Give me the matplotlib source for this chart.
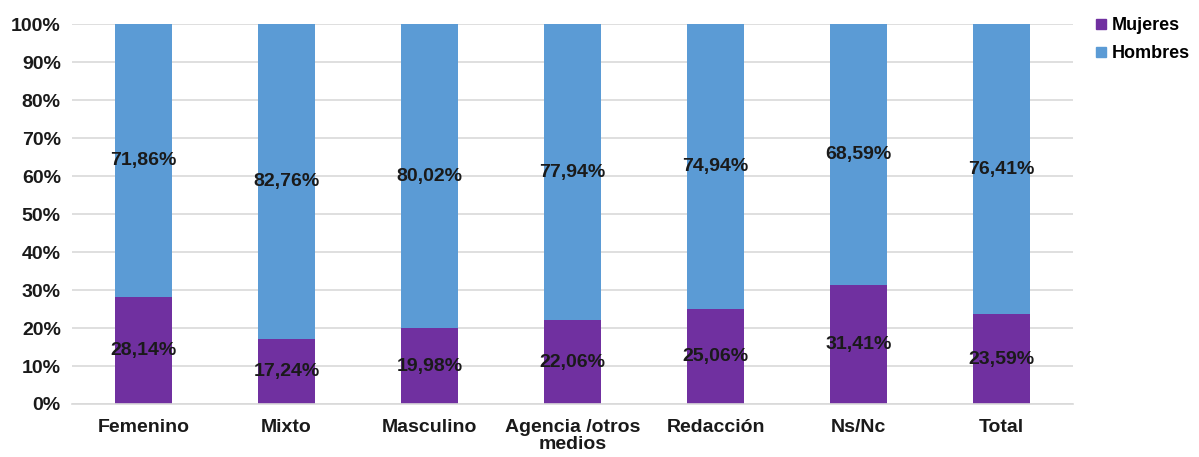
import matplotlib.pyplot as plt
import numpy as np
from matplotlib.lines import Line2D

categories = ["Femenino", "Mixto", "Masculino", "Agencia /otros\nmedios",
              "Redacción", "Ns/Nc", "Total"]
mujeres = [28.14, 17.24, 19.98, 22.06, 25.06, 31.41, 23.59]
hombres = [71.86, 82.76, 80.02, 77.94, 74.94, 68.59, 76.41]

PURPLE = "#7030A0"
BLUE = "#5B9BD5"

plt.rcParams["font.family"] = ["Liberation Sans", "DejaVu Sans"]
plt.rcParams["font.weight"] = "bold"

fig = plt.figure(figsize=(11.99, 4.57), dpi=100)
ax = fig.add_axes([0.060, 0.116, 0.835, 0.831])

x = np.arange(len(categories))
width = 0.40
ax.bar(x, mujeres, width, color=PURPLE, zorder=2)
ax.bar(x, hombres, width, bottom=mujeres, color=BLUE, zorder=2)

for i, (m, h) in enumerate(zip(mujeres, hombres)):
    ax.text(i, m / 2, f"{m:.2f}%".replace(".", ","), ha="center", va="center",
            fontsize=14, fontweight="bold", color="#1a1a1a", zorder=3)
    ax.text(i, m + h / 2, f"{h:.2f}%".replace(".", ","), ha="center", va="center",
            fontsize=14, fontweight="bold", color="#1a1a1a", zorder=3)

ax.set_xlim(-0.5, len(categories) - 0.5)
ax.set_ylim(0, 100)
ax.set_yticks(range(0, 101, 10))
ax.set_yticklabels([f"{v}%" for v in range(0, 101, 10)], fontsize=14, fontweight="bold")
ax.set_xticks(x)
ax.set_xticklabels(categories, fontsize=14, fontweight="bold", linespacing=1.0)
ax.tick_params(axis="y", length=0, pad=8, colors="#1a1a1a")
ax.tick_params(axis="x", length=0, pad=11, colors="#1a1a1a")
ax.grid(axis="y", color="#d9d9d9", linewidth=1.2, zorder=0)
for side in ["top", "right", "left"]:
    ax.spines[side].set_visible(False)
ax.spines["bottom"].set_color("#d9d9d9")
ax.spines["bottom"].set_linewidth(1.2)

handles = [
    Line2D([], [], marker="s", linestyle="", color=PURPLE, markersize=7),
    Line2D([], [], marker="s", linestyle="", color=BLUE, markersize=7),
]
fig.legend(handles, ["Mujeres", "Hombres"], loc="upper left",
           bbox_to_anchor=(0.900, 0.99), frameon=False, handletextpad=0.1,
           handlelength=1.0, labelspacing=0.6, borderaxespad=0.3,
           prop={"size": 13, "weight": "bold"})

fig.savefig("out.png", dpi=100)
